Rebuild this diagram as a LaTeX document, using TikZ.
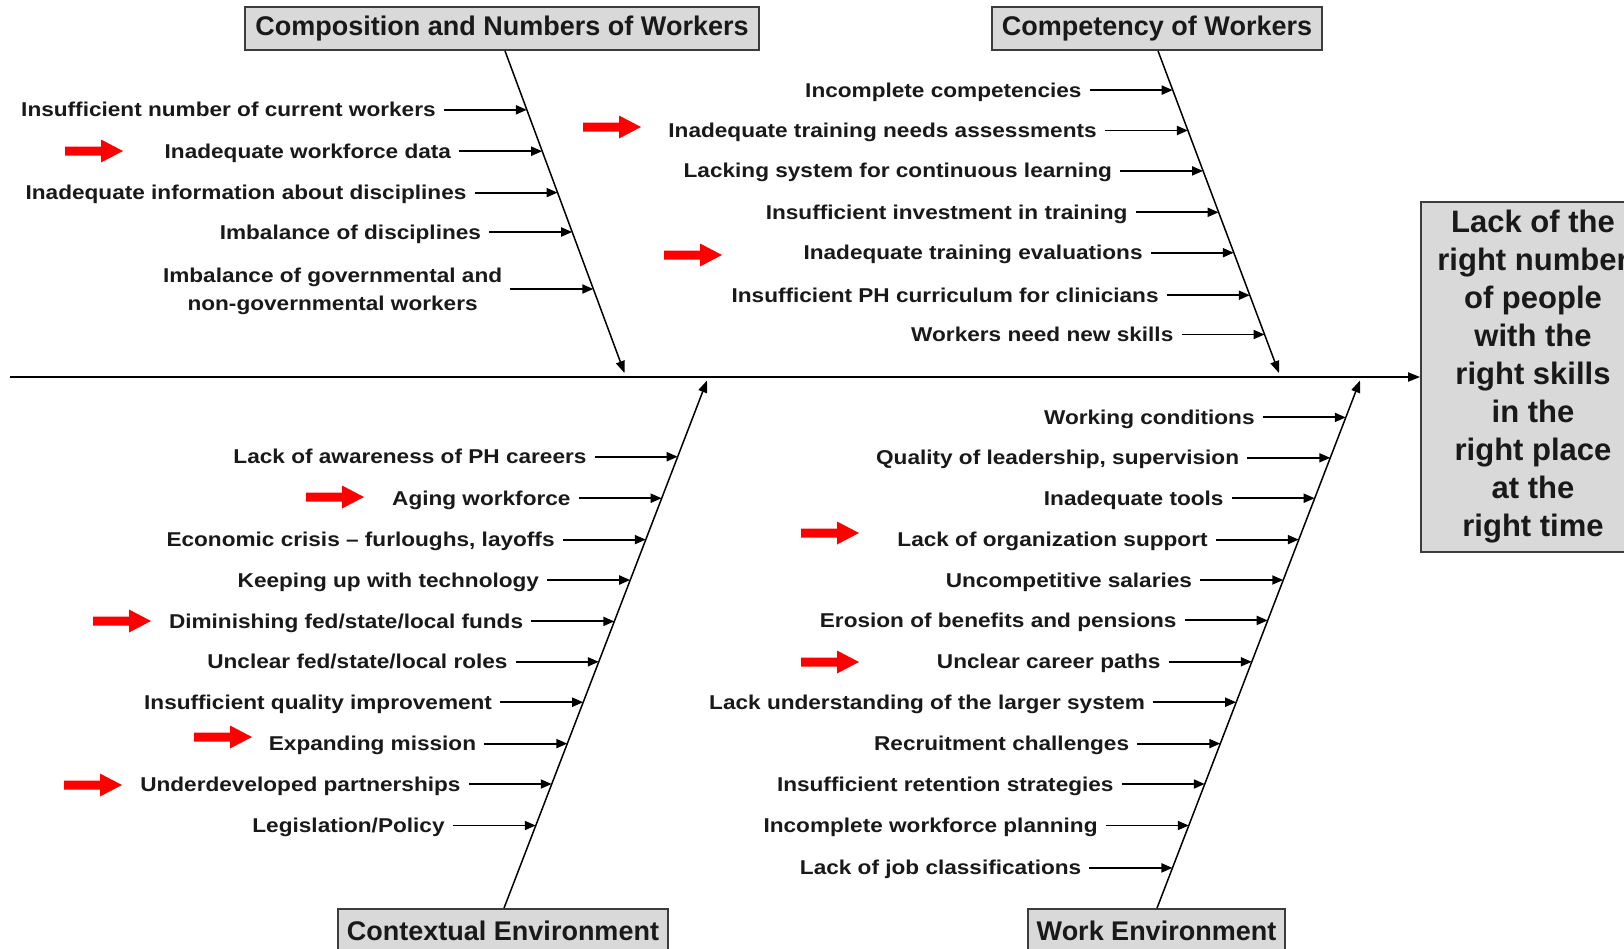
\documentclass[tikz,border=0pt]{standalone}
\usepackage{fontspec}
\setmainfont{Liberation Sans}
\newfontfamily\lblfont[FakeStretch=1.13]{Liberation Sans}
\usetikzlibrary{arrows.meta,calc,intersections}
\definecolor{boxgray}{RGB}{217,217,217}
\definecolor{boxedge}{RGB}{60,60,60}
\definecolor{txt}{RGB}{25,25,25}
\tikzset{
  lbl/.style={anchor=east,inner sep=0pt,text height=14pt,text depth=0pt,align=center,text=txt,
    font=\lblfont\bfseries\fontsize{20}{28}\selectfont},
  ribarrow/.style={line width=1.9pt,-{Triangle[length=11pt,width=9pt]}},
  bone/.style={line width=1.5pt,-{Triangle[length=12pt,width=9pt]}},
  spine/.style={line width=1.8pt,-{Triangle[length=12pt,width=9pt]}},
  catbox/.style={draw=boxedge,fill=boxgray,line width=1.8pt,minimum height=43pt,inner sep=0pt,text=txt,
    font=\bfseries\fontsize{27}{32}\selectfont},
  headbox/.style={draw=boxedge,fill=boxgray,line width=1.8pt,minimum width=224pt,minimum height=350pt,
    align=center,inner sep=0pt,text=txt,font=\bfseries\fontsize{31}{38}\selectfont},
  redarr/.style={fill=red}
}
\newcommand\rib[5][]{%
  \path[name path=hl-#3] (0,#4) -- (1624,#4);
  \path[name intersections={of=#2 and hl-#3, by={#3-b}}];
  \node[lbl,#1] (#3) at ($(#3-b)+(-91,0)$) {#5};
  \draw[ribarrow] ([xshift=8pt]#3.east) -- (#3-b);
}
\newcommand\redarrow[2]{%
  \fill[redarr] (#1,#2) ++(0,-4.5) -- ++(36,0) -- ++(0,-7) -- ++(22,11.5) -- ++(-22,11.5) -- ++(0,-7) -- ++(-36,0) -- cycle;
}
\begin{document}
\begin{tikzpicture}[x=1pt,y=-1pt]
\useasboundingbox (0,0) rectangle (1624,948);
\clip (0,0) rectangle (1624,948);
\fill[white] (0,0) rectangle (1624,948);

% category boxes
\node[catbox,minimum width=514pt] (tlbox) at (502,28.5) {Composition and Numbers of Workers};
\node[catbox,minimum width=330pt] (trbox) at (1157,28.5) {Competency of Workers};
\node[catbox,minimum width=330pt] (blbox) at (503,930.5) {Contextual Environment};
\node[catbox,minimum width=257pt] (brbox) at (1156.5,930.5) {Work Environment};

% head
\node[headbox] (head) at (1533,377) {Lack of the\\right number\\of people\\with the\\right skills\\in the\\right place\\at the\\right time};

% spine
\coordinate (spineStart) at (10,377);
\draw[spine] (spineStart) -- (head.west);

% bones
\coordinate (tlEnd) at (624.5,373);
\coordinate (trEnd) at (1279,373);
\coordinate (blEnd) at (707,380.5);
\coordinate (brEnd) at (1360,380.5);
\draw[bone,name path=tl] ([xshift=3pt]tlbox.south) -- (tlEnd);
\draw[bone,name path=tr] ([xshift=1pt]trbox.south) -- (trEnd);
\draw[bone,name path=bl] ([xshift=1pt]blbox.north) -- (blEnd);
\draw[bone,name path=br] ([xshift=0.5pt]brbox.north) -- (brEnd);

% top-left ribs
\rib{tl}{tl1}{109.8}{Insufficient number of current workers}
\rib{tl}{tl2}{151.2}{Inadequate workforce data}
\rib{tl}{tl3}{192.6}{Inadequate information about disciplines}
\rib{tl}{tl4}{232}{Imbalance of disciplines}
\rib[text height=42pt]{tl}{tl5}{289}{Imbalance of governmental and\\non-governmental workers}

% top-right ribs
\rib{tr}{tr1}{90.1}{Incomplete competencies}
\rib{tr}{tr2}{130.5}{Inadequate training needs assessments}
\rib{tr}{tr3}{170.9}{Lacking system for continuous learning}
\rib{tr}{tr4}{212.3}{Insufficient investment in training}
\rib{tr}{tr5}{252.7}{Inadequate training evaluations}
\rib{tr}{tr6}{295.2}{Insufficient PH curriculum for clinicians}
\rib{tr}{tr7}{334.5}{Workers need new skills}

% bottom-left ribs
\rib{bl}{bl1}{456.7}{Lack of awareness of PH careers}
\rib{bl}{bl2}{498.2}{Aging workforce}
\rib{bl}{bl3}{539.6}{Economic crisis – furloughs, layoffs}
\rib{bl}{bl4}{580}{Keeping up with technology}
\rib{bl}{bl5}{621.4}{Diminishing fed/state/local funds}
\rib{bl}{bl6}{661.8}{Unclear fed/state/local roles}
\rib{bl}{bl7}{702.2}{Insufficient quality improvement}
\rib{bl}{bl8}{743.6}{Expanding mission}
\rib{bl}{bl9}{784}{Underdeveloped partnerships}
\rib{bl}{bl10}{825.5}{Legislation/Policy}

% bottom-right ribs
\rib{br}{br1}{417.4}{Working conditions}
\rib{br}{br2}{457.8}{Quality of leadership, supervision}
\rib{br}{br3}{498.2}{Inadequate tools}
\rib{br}{br4}{539.6}{Lack of organization support}
\rib{br}{br5}{580}{Uncompetitive salaries}
\rib{br}{br6}{620.4}{Erosion of benefits and pensions}
\rib{br}{br7}{661.8}{Unclear career paths}
\rib{br}{br8}{702.2}{Lack understanding of the larger system}
\rib{br}{br9}{743.6}{Recruitment challenges}
\rib{br}{br10}{784}{Insufficient retention strategies}
\rib{br}{br11}{825.5}{Incomplete workforce planning}
\rib{br}{br12}{867.9}{Lack of job classifications}

% red highlight arrows
\redarrow{65}{151}
\redarrow{583}{127}
\redarrow{664}{255}
\redarrow{306}{497}
\redarrow{93}{621}
\redarrow{194}{737}
\redarrow{64}{785}
\redarrow{801}{533}
\redarrow{801}{662}
\end{tikzpicture}
\end{document}
